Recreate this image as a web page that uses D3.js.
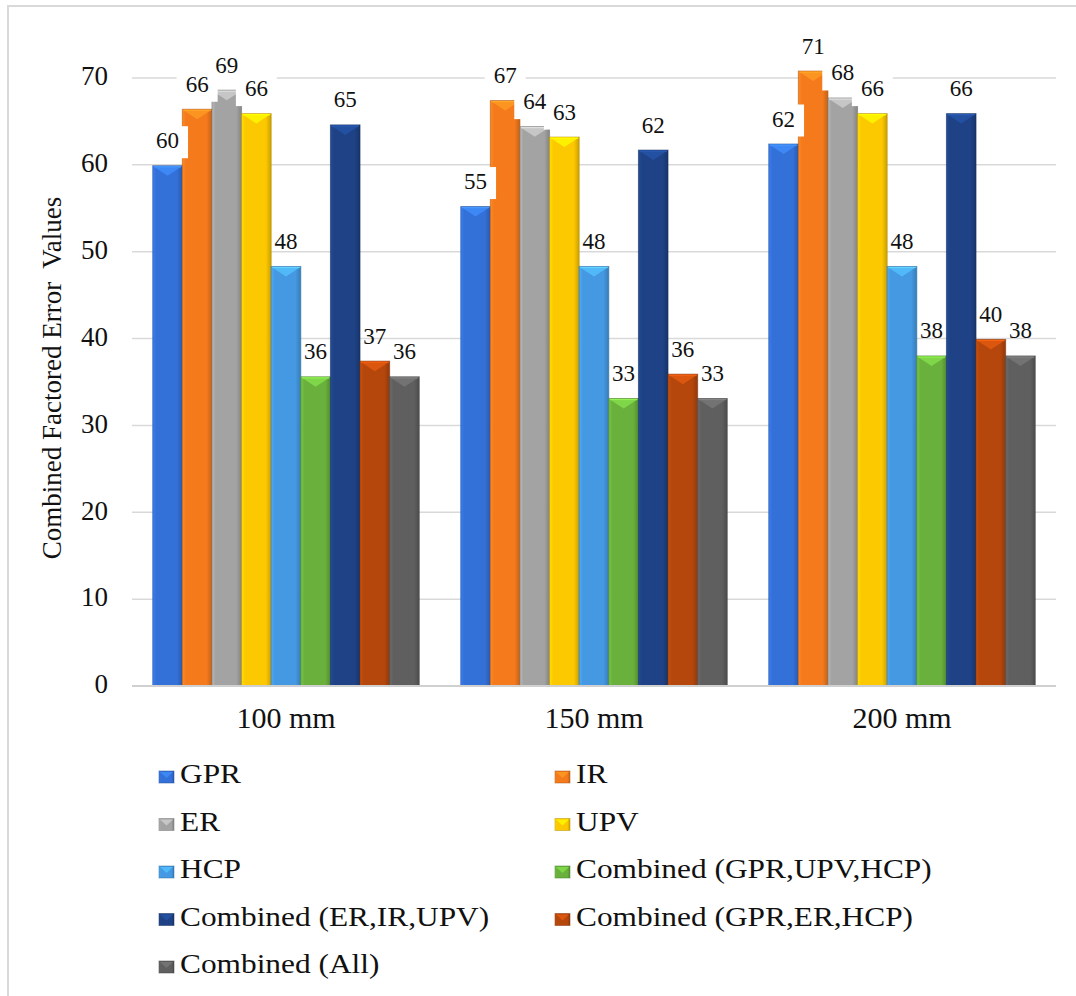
<!DOCTYPE html>
<html>
<head>
<meta charset="utf-8">
<script src="https://cdn.jsdelivr.net/npm/d3@7"></script>
<style>
  html, body { margin: 0; padding: 0; background: #fff; }
  svg { display: block; font-family: "Liberation Serif", "Times New Roman", serif; }
</style>
</head>
<body>
<svg width="1076" height="996"></svg>
<script>
const categories = ["100 mm", "150 mm", "200 mm"];
const seriesNames = [
    "GPR", "IR", "ER", "UPV", "HCP",
    "Combined (GPR,UPV,HCP)", "Combined (ER,IR,UPV)",
    "Combined (GPR,ER,HCP)", "Combined (All)"
];
const gprValues = [59.9, 55.2, 62.4];
const irValues = [66.4, 67.4, 70.8];
const erValues = [68.6, 64.4, 67.7];
const upvValues = [65.9, 63.2, 65.9];
const hcpValues = [48.3, 48.3, 48.3];
const combGuhValues = [35.6, 33.1, 38.0];
const combEiuValues = [64.6, 61.7, 65.9];
const combGehValues = [37.4, 35.9, 39.9];
const combAllValues = [35.6, 33.1, 38.0];
const yTicks = [0, 10, 20, 30, 40, 50, 60, 70];

const seriesValues = [gprValues, irValues, erValues, upvValues, hcpValues,
    combGuhValues, combEiuValues, combGehValues, combAllValues];
const colors = ["#3370d8", "#f47a1c", "#a3a3a3", "#fcc800", "#4499e2",
    "#69b13c", "#1e4285", "#b5470c", "#5f5f5f"];
// the first four series have white-filled data labels in the original
const filledLabels = [true, true, true, true, false, false, false, false, false];

const svg = d3.select("svg");
const width = 1076, height = 996;

const margin = { left: 132, top: 78 };
const plotRight = 1056;
const plotBottom = 686;

// outer frame
svg.append("rect")
    .attr("x", 8).attr("y", 6)
    .attr("width", width + 20).attr("height", height + 20)
    .attr("fill", "none")
    .attr("stroke", "#d9d9d9")
    .attr("stroke-width", 2);

const x0 = d3.scaleBand()
    .domain(categories)
    .range([margin.left, plotRight])
    .padding(0);

const x1 = d3.scaleBand()
    .domain(d3.range(seriesNames.length))
    .range([0, x0.bandwidth()])
    .paddingInner(0)
    .paddingOuter(0.7);

const y = d3.scaleLinear()
    .domain([0, 70])
    .range([plotBottom, margin.top]);

// gradients for the bevelled bars
const defs = svg.append("defs");
colors.forEach((c, i) => {
    const g = defs.append("linearGradient")
        .attr("id", "grad" + i)
        .attr("x1", "0").attr("x2", "1").attr("y1", "0").attr("y2", "0");
    g.append("stop").attr("offset", "0%").attr("stop-color", d3.color(c).brighter(0.35));
    g.append("stop").attr("offset", "12%").attr("stop-color", c);
    g.append("stop").attr("offset", "82%").attr("stop-color", c);
    g.append("stop").attr("offset", "100%").attr("stop-color", d3.color(c).darker(0.6));
});

// gridlines
svg.append("g")
    .selectAll("line")
    .data(yTicks.filter(t => t > 0))
    .join("line")
    .attr("x1", margin.left).attr("x2", plotRight)
    .attr("y1", d => y(d)).attr("y2", d => y(d))
    .attr("stroke", "#d9d9d9")
    .attr("stroke-width", 1.5);

// y tick labels
svg.append("g")
    .selectAll("text")
    .data(yTicks)
    .join("text")
    .attr("x", 108)
    .attr("y", d => y(d))
    .attr("dy", "0.27em")
    .attr("text-anchor", "end")
    .attr("font-size", 27)
    .attr("fill", "#111")
    .text(d => d);

// y title
svg.append("text")
    .attr("transform", "translate(61,378) rotate(-90)")
    .attr("text-anchor", "middle")
    .attr("font-size", 27)
    .attr("fill", "#111")
    .style("white-space", "pre")
    .text("Combined Factored Error  Values");

// bars
const bars = [];
categories.forEach((cat, ci) => {
    seriesValues.forEach((vals, si) => {
        bars.push({ cat, si, v: vals[ci] });
    });
});

const barG = svg.append("g");
bars.forEach(b => {
    const bx = x0(b.cat) + x1(b.si);
    const bw = x1.bandwidth();
    const by = y(b.v);
    const bh = plotBottom - by;
    const c = colors[b.si];
    barG.append("rect")
        .attr("x", bx).attr("y", by)
        .attr("width", bw).attr("height", bh)
        .attr("fill", `url(#grad${b.si})`)
        .attr("stroke", d3.color(c).darker(0.9))
        .attr("stroke-opacity", 0.6)
        .attr("stroke-width", 1);
    // top bevel chevron
    barG.append("path")
        .attr("d", `M${bx + 1},${by + 1}L${bx + bw - 1},${by + 1}L${bx + bw / 2},${by + 10}Z`)
        .attr("fill", d3.color(c).brighter(0.7))
        .attr("opacity", 0.75);
    barG.append("line")
        .attr("x1", bx + 1).attr("x2", bx + bw - 1)
        .attr("y1", by + 1).attr("y2", by + 1)
        .attr("stroke", d3.color(c).brighter(0.9))
        .attr("stroke-width", 1.2);
});

// baseline
svg.append("line")
    .attr("x1", margin.left).attr("x2", plotRight)
    .attr("y1", plotBottom).attr("y2", plotBottom)
    .attr("stroke", "#d0d0d0")
    .attr("stroke-width", 2);

// data labels
const fmt = d3.format(".0f");
const labelG = svg.append("g");
bars.forEach(b => {
    const cx = x0(b.cat) + x1(b.si) + x1.bandwidth() / 2;
    const base = y(b.v) - 17.5;
    if (filledLabels[b.si]) {
        const tw = 23;
        labelG.append("rect")
            .attr("x", cx - tw / 2 - 9)
            .attr("y", base - 22)
            .attr("width", tw + 18)
            .attr("height", 32)
            .attr("fill", "#fff");
    }
});
bars.forEach(b => {
    const cx = x0(b.cat) + x1(b.si) + x1.bandwidth() / 2;
    const base = y(b.v) - 17.5;
    labelG.append("text")
        .attr("x", cx)
        .attr("y", base)
        .attr("text-anchor", "middle")
        .attr("font-size", 23)
        .attr("fill", "#111")
        .text(fmt(b.v));
});

// category labels
svg.append("g")
    .selectAll("text")
    .data(categories)
    .join("text")
    .attr("x", d => x0(d) + x0.bandwidth() / 2)
    .attr("y", 728)
    .attr("text-anchor", "middle")
    .attr("font-size", 30)
    .attr("fill", "#111")
    .text(d => d);

// legend, two columns
const legCols = [159, 555];
const legRow0 = 783, legStep = 47.5;
const legend = svg.append("g");
seriesNames.forEach((name, i) => {
    const lx = legCols[i % 2];
    const ly = legRow0 + Math.floor(i / 2) * legStep;
    const c = colors[i];
    const s = 14;
    legend.append("rect")
        .attr("x", lx).attr("y", ly - 12)
        .attr("width", s + 1).attr("height", 12)
        .attr("fill", `url(#grad${i})`)
        .attr("stroke", d3.color(c).darker(0.9))
        .attr("stroke-opacity", 0.5);
    legend.append("path")
        .attr("d", `M${lx + 1},${ly - 11}L${lx + s},${ly - 11}L${lx + (s + 1) / 2},${ly - 5}Z`)
        .attr("fill", d3.color(c).brighter(0.7))
        .attr("opacity", 0.75);
    legend.append("text")
        .attr("transform", `translate(${lx + 21},${ly}) scale(1.12,1)`)
        .attr("font-size", 28)
        .attr("fill", "#111")
        .text(name);
});
</script>
</body>
</html>
